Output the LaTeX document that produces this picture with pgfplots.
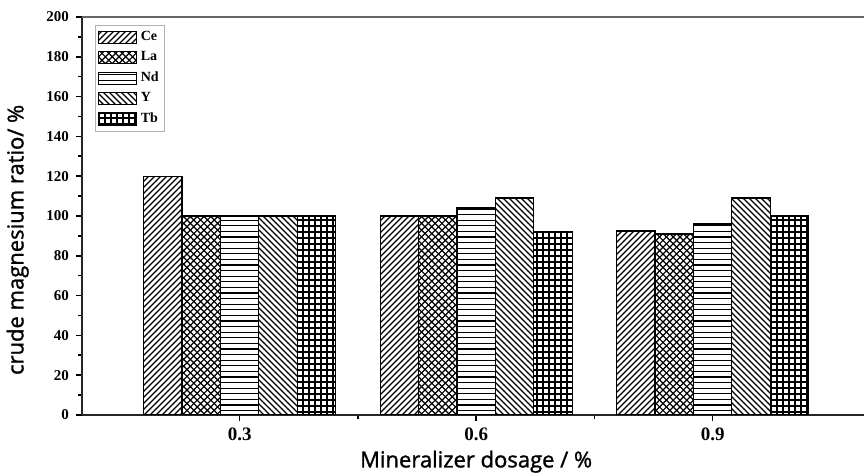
\documentclass[border=0pt]{standalone}
\usepackage{fontspec}
\setmainfont{Liberation Serif}
\newfontfamily\labfont{Open Sans}[FakeBold=1.3]
\usepackage{pgfplots}
\pgfplotsset{compat=1.18}
\usetikzlibrary{patterns}

\pgfdeclarepatternformonly{pce}{\pgfqpoint{-1pt}{-1pt}}{\pgfqpoint{4pt}{4pt}}{\pgfqpoint{3pt}{3pt}}{%
  \pgfsetlinewidth{0.55pt}
  \pgfpathmoveto{\pgfqpoint{0pt}{0pt}}\pgfpathlineto{\pgfqpoint{3.1pt}{3.1pt}}
  \pgfusepath{stroke}}
\pgfdeclarepatternformonly{py}{\pgfqpoint{-1pt}{-1pt}}{\pgfqpoint{4pt}{4pt}}{\pgfqpoint{3pt}{3pt}}{%
  \pgfsetlinewidth{0.55pt}
  \pgfpathmoveto{\pgfqpoint{0pt}{3pt}}\pgfpathlineto{\pgfqpoint{3.1pt}{-0.1pt}}
  \pgfusepath{stroke}}
\pgfdeclarepatternformonly{pnd}{\pgfqpoint{-1pt}{-1pt}}{\pgfqpoint{4pt}{4pt}}{\pgfqpoint{3pt}{2.8pt}}{%
  \pgfsetlinewidth{0.6pt}
  \pgfpathmoveto{\pgfqpoint{-0.5pt}{1.4pt}}\pgfpathlineto{\pgfqpoint{3.5pt}{1.4pt}}
  \pgfusepath{stroke}}
\pgfdeclarepatternformonly{ptb}{\pgfqpoint{-1pt}{-1pt}}{\pgfqpoint{4pt}{4pt}}{\pgfqpoint{3pt}{3pt}}{%
  \pgfsetlinewidth{0.6pt}
  \pgfpathmoveto{\pgfqpoint{-0.5pt}{1.5pt}}\pgfpathlineto{\pgfqpoint{3.5pt}{1.5pt}}
  \pgfpathmoveto{\pgfqpoint{1.5pt}{-0.5pt}}\pgfpathlineto{\pgfqpoint{1.5pt}{3.5pt}}
  \pgfusepath{stroke}}
\pgfdeclarepatternformonly{pla}{\pgfqpoint{-1pt}{-1pt}}{\pgfqpoint{4pt}{4pt}}{\pgfqpoint{3.4pt}{3.4pt}}{%
  \pgfsetlinewidth{0.6pt}
  \pgfpathmoveto{\pgfqpoint{0pt}{0pt}}\pgfpathlineto{\pgfqpoint{3.5pt}{3.5pt}}
  \pgfpathmoveto{\pgfqpoint{0pt}{3.4pt}}\pgfpathlineto{\pgfqpoint{3.5pt}{-0.1pt}}
  \pgfusepath{stroke}}

\pgfplotstableread{
x    Ce    La   Nd   Y    Tb
0.3  120   100  100  100  100
0.6  100   100  104  109  92
0.9  92.5  91   96   109  100
}\datatable

\begin{document}
\begin{tikzpicture}
\begin{axis}[
  at={(0,0)}, anchor=south west,
  scale only axis, width=391pt, height=199pt,
  xmin=0.1, xmax=1.092, ymin=0, ymax=200,
  axis lines=left, axis line style={-, line width=0.9pt, black!85},
  ybar=0pt, bar width=19.2pt,
  xtick={0.3,0.6,0.9}, xticklabels={0.3,0.6,0.9},
  minor x tick num=1,
  ytick={0,20,...,200}, minor y tick num=1,
  tick align=outside, tick pos=left,
  major tick length=3pt, minor tick length=2pt,
  tick style={line width=0.8pt, black},
  /pgf/number format/assume math mode=true,
  xticklabel style={font=\bfseries\fontsize{9.5}{10}\selectfont},
  yticklabel style={font=\bfseries\fontsize{7.5}{8}\selectfont},
  xlabel={\labfont Mineralizer dosage / \%},
  ylabel={\labfont crude magnesium ratio/ \%},
  xlabel style={font=\fontsize{11}{13}\selectfont, at={(ticklabel cs:0.504)}, anchor=north, yshift=2pt},
  ylabel style={font=\fontsize{11}{13}\selectfont, at={(ticklabel cs:0.44)}, anchor=south, yshift=2pt},
  legend style={at={(rel axis cs:0.017,0.98)}, anchor=north west, draw=black!30,
    font=\bfseries\fontsize{7}{7.5}\selectfont, inner sep=1pt, row sep=0pt,
    legend cell align=left},
  legend image code/.code={\draw[#1] (0pt,-3pt) rectangle (19pt,3pt);},
]
\addplot[draw=black, line width=0.6pt, pattern=pce] table[x=x,y=Ce] {\datatable};
\addplot[draw=black, line width=0.6pt, pattern=pla] table[x=x,y=La] {\datatable};
\addplot[draw=black, line width=0.6pt, pattern=pnd] table[x=x,y=Nd] {\datatable};
\addplot[draw=black, line width=0.6pt, pattern=py] table[x=x,y=Y] {\datatable};
\addplot[draw=black, line width=0.6pt, pattern=ptb] table[x=x,y=Tb] {\datatable};
\legend{Ce,La,Nd,Y,Tb}
\draw[line width=1.5pt, black!60] (rel axis cs:0,1) -- (rel axis cs:1,1);
\end{axis}
\pgfresetboundingbox
\path (-41pt,-30pt) rectangle (391pt,207.5pt);
\end{tikzpicture}
\end{document}
